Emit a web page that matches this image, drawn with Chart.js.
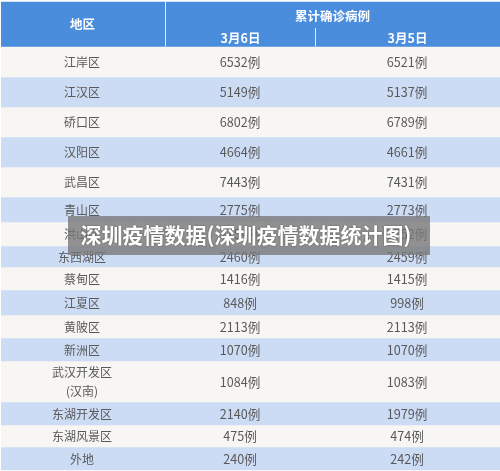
<!DOCTYPE html>
<html lang="zh">
<head>
<meta charset="utf-8">
<style>
html,body{margin:0;padding:0;background:#fff;width:500px;height:471px;overflow:hidden}
canvas{display:block;filter:blur(0.35px)}
</style>
<script src="https://cdn.jsdelivr.net/npm/chart.js@4"></script>
</head>
<body>
<canvas id="c" width="500" height="471"></canvas>
<script>
const regions = [["江岸区"],["江汉区"],["硚口区"],["汉阳区"],["武昌区"],["青山区"],["洪山区"],["东西湖区"],["蔡甸区"],["江夏区"],["黄陂区"],["新洲区"],["武汉开发区","(汉南)"],["东湖开发区"],["东湖风景区"],["外地"]];
const casesMar6 = [6532,5149,6802,4664,7443,2775,2754,2460,1416,848,2113,1070,1084,2140,475,240];
const casesMar5 = [6521,5137,6789,4661,7431,2773,2752,2459,1415,998,2113,1070,1083,1979,474,242];
const rowHeights = [30.5,30,30,30,30,25,24,21,23,25,23,23,41,23,22,23];
const headerHeight = 44.5;
const topMargin = 2;
const columnTitle = "地区";
const groupTitle = "累计确诊病例";
const dateTitles = ["3月6日","3月5日"];
const bannerText = "深圳疫情数据(深圳疫情数据统计图)";
const FONT = '"Noto Sans CJK SC","Noto Sans",sans-serif';
const colX = [82,240,407];

const datasets = [
  {label:"margin",data:[topMargin],backgroundColor:"rgba(0,0,0,0)"},
  {label:columnTitle,data:[headerHeight],backgroundColor:"#4a8ddc"},
  ...rowHeights.map((h,i)=>({label:regions[i].join(""),data:[h],backgroundColor:i%2?"#cddcf5":"#f8f6f3"}))
];

const tablePlugin = {
  id:"table",
  afterDatasetsDraw(chart){
    const {ctx,scales:{y}} = chart;
    const py = v => y.getPixelForValue(v);
    ctx.save();
    ctx.textAlign="center";ctx.textBaseline="middle";
    const top=topMargin, bot=topMargin+headerHeight;
    ctx.strokeStyle="#dfe9f7";ctx.lineWidth=1;
    ctx.beginPath();ctx.moveTo(165.5,py(top));ctx.lineTo(165.5,py(bot));
    ctx.moveTo(315.5,py(top+26));ctx.lineTo(315.5,py(bot));ctx.stroke();
    ctx.fillStyle="#ffffff";
    ctx.font='bold 12.5px '+FONT;
    ctx.fillText(columnTitle,82.5,py(top+22));
    ctx.fillText(groupTitle,332.5,py(top+14));
    ctx.fillText(dateTitles[0],240.5,py(top+36));
    ctx.fillText(dateTitles[1],407.5,py(top+36));
    ctx.fillStyle="#595959";
    let acc=bot;
    rowHeights.forEach((h,i)=>{
      const c=acc+h/2+0.5;
      const lines=regions[i];
      ctx.font='12px '+FONT;
      if(lines.length===2){
        ctx.fillText(lines[0],colX[0],py(c-10));
        ctx.fillText(lines[1],colX[0],py(c+9));
      } else ctx.fillText(lines[0],colX[0],py(c));
      ctx.font='12.6px '+FONT;
      ctx.fillText(casesMar6[i]+"例",colX[1],py(c));
      ctx.fillText(casesMar5[i]+"例",colX[2],py(c));
      acc+=h;
    });
    ctx.fillStyle="rgba(120,120,120,0.8)";
    ctx.fillRect(68,216,362,39);
    ctx.font='bold 21px '+FONT;
    ctx.fillStyle="#ffffff";
    ctx.shadowColor="rgba(0,0,0,0.4)";ctx.shadowBlur=2;
    ctx.fillText(bannerText,246,py(235));
    ctx.restore();
  }
};

new Chart(document.getElementById("c"),{
  type:"bar",
  data:{labels:[""],datasets},
  options:{
    responsive:false,animation:false,devicePixelRatio:1,
    layout:{padding:{left:1,right:0,top:0,bottom:0}},
    datasets:{bar:{barPercentage:1,categoryPercentage:1,borderWidth:0}},
    plugins:{legend:{display:false},tooltip:{enabled:false},title:{display:false}},
    scales:{
      x:{stacked:true,display:false},
      y:{stacked:true,display:false,reverse:true,min:0,max:471}
    }
  },
  plugins:[tablePlugin]
});
</script>
</body>
</html>
